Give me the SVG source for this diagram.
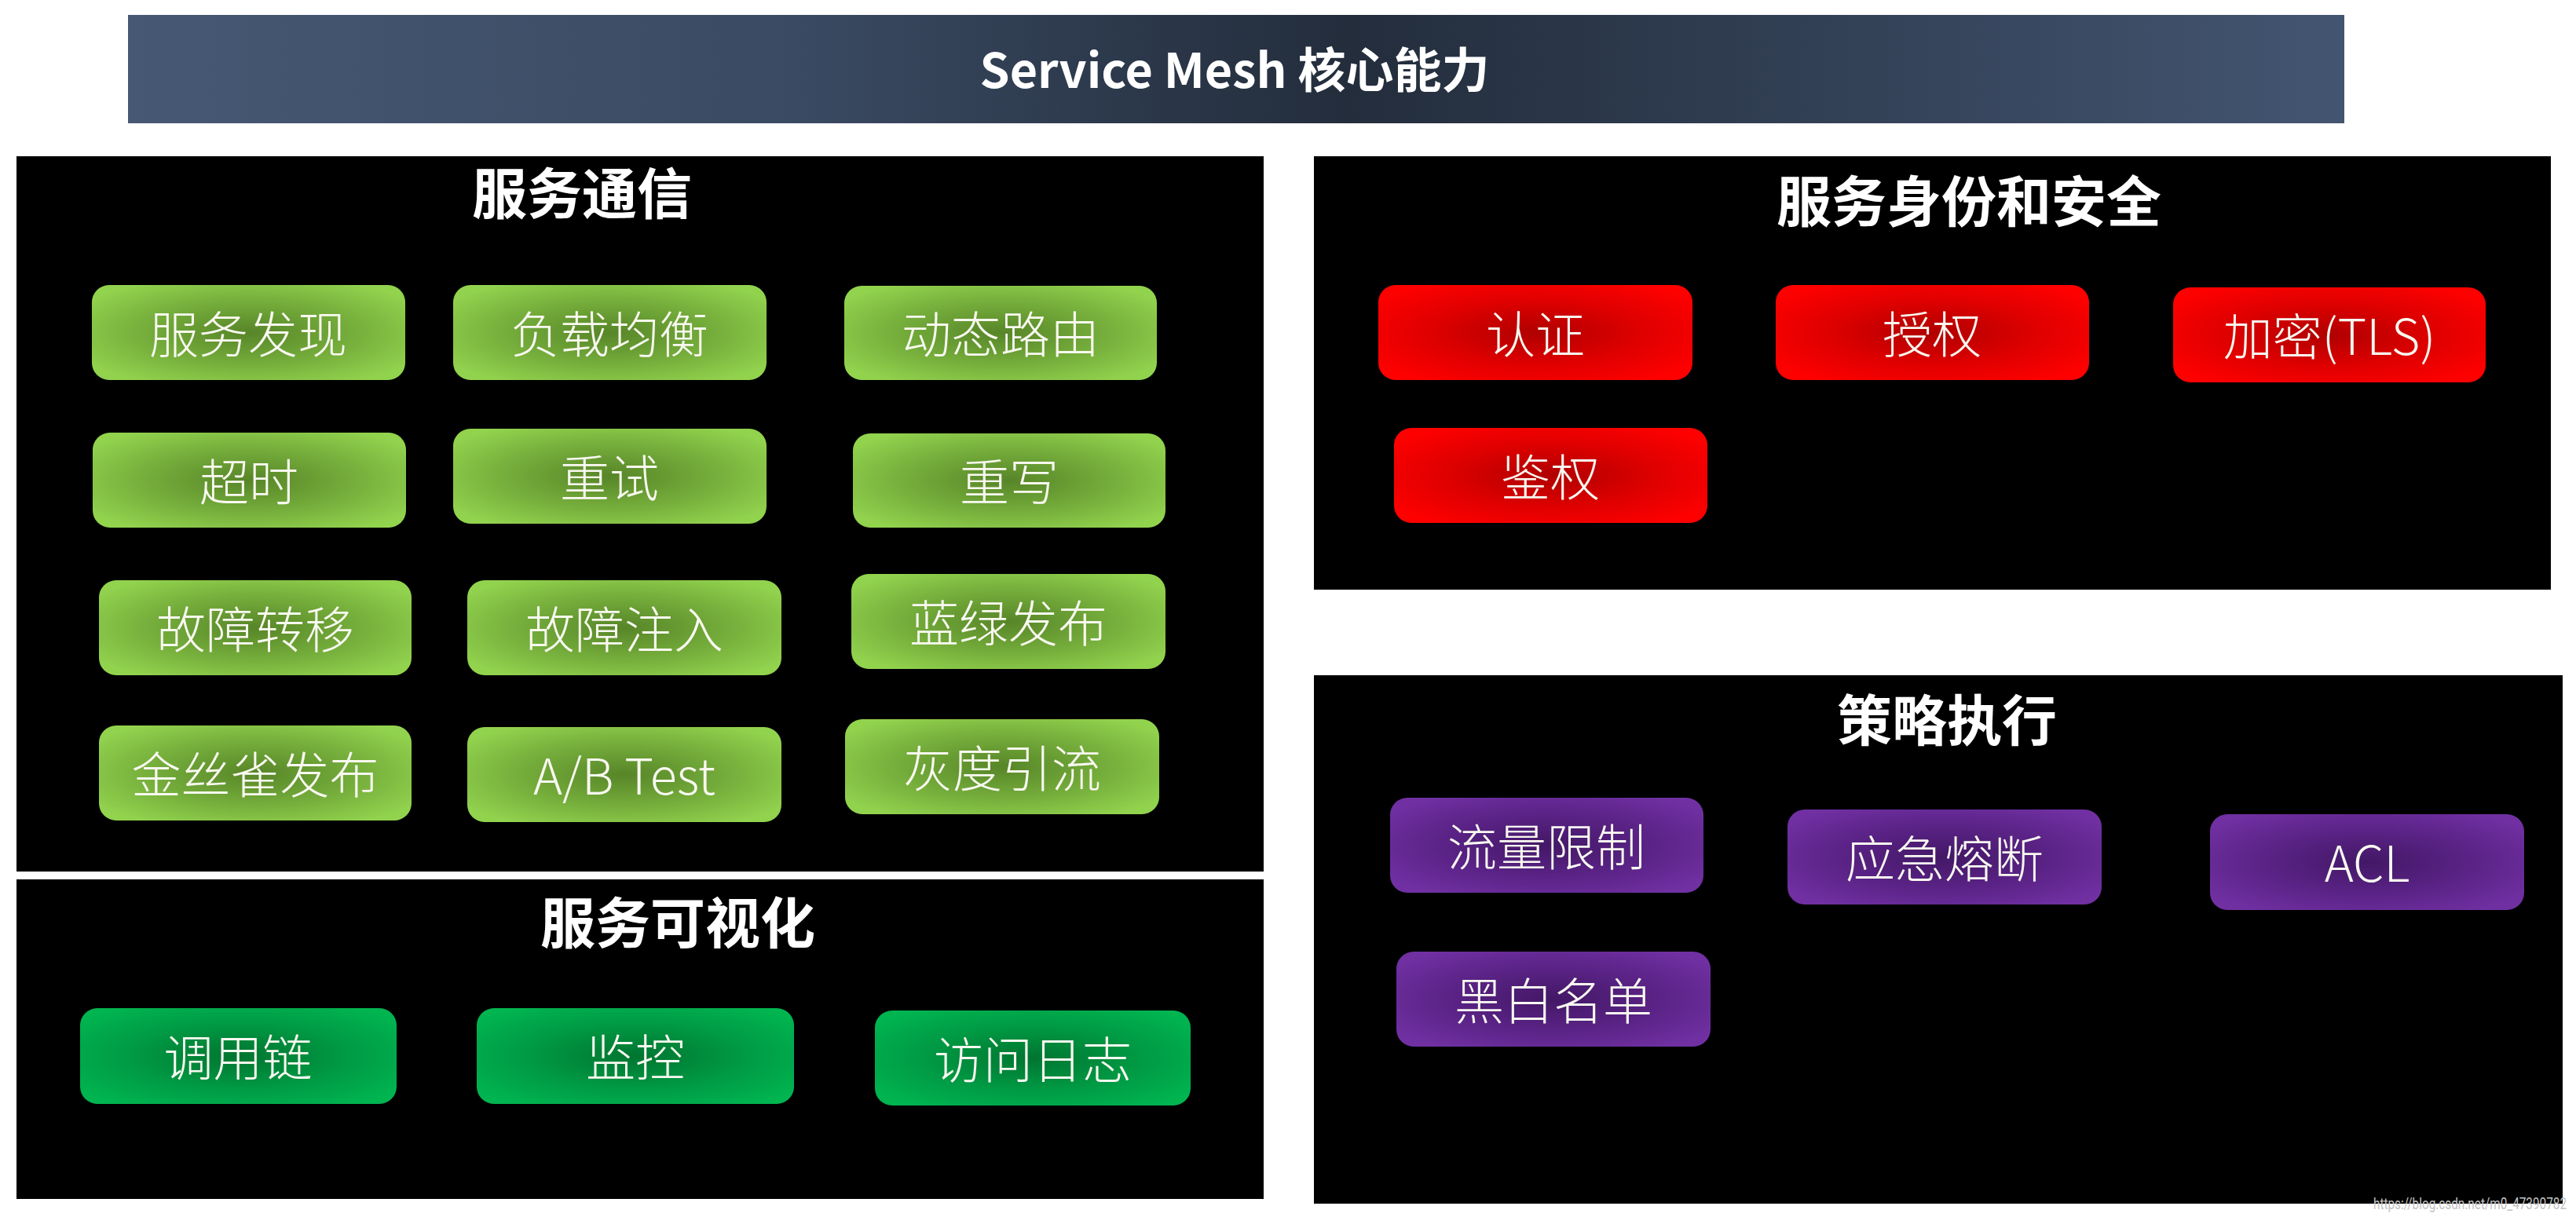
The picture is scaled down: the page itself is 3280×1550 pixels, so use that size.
<svg xmlns="http://www.w3.org/2000/svg" width="3280" height="1550" viewBox="0 0 3280 1550">
<defs>
<linearGradient id="gTitle" x1="0" y1="0" x2="1" y2="0">
<stop offset="0" stop-color="#465873"/>
<stop offset="0.3" stop-color="#3a4a62"/>
<stop offset="0.55" stop-color="#232d3c"/>
<stop offset="1" stop-color="#435571"/>
</linearGradient>
<radialGradient id="gLime" cx="0.5" cy="0.5" r="0.62">
<stop offset="0" stop-color="#578528"/>
<stop offset="0.55" stop-color="#76af3c"/>
<stop offset="1" stop-color="#92d34e"/>
</radialGradient>
<radialGradient id="gGreen" cx="0.5" cy="0.5" r="0.62">
<stop offset="0" stop-color="#007530"/>
<stop offset="0.55" stop-color="#009a44"/>
<stop offset="1" stop-color="#00b450"/>
</radialGradient>
<radialGradient id="gRed" cx="0.5" cy="0.5" r="0.62">
<stop offset="0" stop-color="#b00000"/>
<stop offset="0.55" stop-color="#e00000"/>
<stop offset="1" stop-color="#ff0000"/>
</radialGradient>
<radialGradient id="gPurple" cx="0.5" cy="0.5" r="0.62">
<stop offset="0" stop-color="#431866"/>
<stop offset="0.55" stop-color="#5b2387"/>
<stop offset="1" stop-color="#7030a2"/>
</radialGradient>
</defs>
<style>
.panel{fill:#000000}
.ptitle{font-family:"Noto Sans CJK SC","Noto Sans",sans-serif;font-weight:700;font-size:70px;fill:#ffffff;text-anchor:middle}
.nbox{stroke:none}
.lime{fill:url(#gLime)}
.green{fill:url(#gGreen)}
.red{fill:url(#gRed)}
.purple{fill:url(#gPurple)}
.ntext{font-family:"Noto Sans CJK SC","Noto Sans",sans-serif;font-weight:300;font-size:63px;fill:#f8f8f0;text-anchor:middle}
.title{font-family:"Noto Sans CJK SC","Noto Sans",sans-serif;font-weight:600;font-size:61px;fill:#ffffff;text-anchor:middle}
.wm{font-family:Roboto,"Liberation Sans",sans-serif;font-size:20px;fill:#c4c4c4}
</style>
<rect width="3280" height="1550" fill="#ffffff"/>

<g id="title-bar">
<rect x="163" y="19" width="2822" height="138" fill="url(#gTitle)"/>
<text class="title" x="1572" y="112">Service Mesh 核心能力</text>
</g>

<g id="panel-communication">
<rect class="panel" x="21" y="199" width="1588" height="911"/>
<text class="ptitle" x="741" y="273">服务通信</text>
</g>
<g id="panel-visibility">
<rect class="panel" x="21" y="1120" width="1588" height="407"/>
<text class="ptitle" x="863" y="1202">服务可视化</text>
</g>
<g id="panel-security">
<rect class="panel" x="1673" y="199" width="1575" height="552"/>
<text class="ptitle" x="2507" y="283">服务身份和安全</text>
</g>
<g id="panel-policy">
<rect class="panel" x="1673" y="860" width="1590" height="673"/>
<text class="ptitle" x="2479" y="944">策略执行</text>
</g>

<g id="node-service-discovery"><rect class="nbox lime" x="117" y="363" width="399" height="121" rx="22"/><text class="ntext" x="316" y="449">服务发现</text></g>
<g id="node-load-balancing"><rect class="nbox lime" x="577" y="363" width="399" height="121" rx="22"/><text class="ntext" x="776" y="449">负载均衡</text></g>
<g id="node-dynamic-routing"><rect class="nbox lime" x="1075" y="364" width="398" height="120" rx="22"/><text class="ntext" x="1274" y="449">动态路由</text></g>
<g id="node-timeout"><rect class="nbox lime" x="118" y="551" width="399" height="121" rx="22"/><text class="ntext" x="317" y="637">超时</text></g>
<g id="node-retry"><rect class="nbox lime" x="577" y="546" width="399" height="121" rx="22"/><text class="ntext" x="776" y="632">重试</text></g>
<g id="node-rewrite"><rect class="nbox lime" x="1086" y="552" width="398" height="120" rx="22"/><text class="ntext" x="1285" y="637">重写</text></g>
<g id="node-failover"><rect class="nbox lime" x="126" y="739" width="398" height="121" rx="22"/><text class="ntext" x="325" y="825">故障转移</text></g>
<g id="node-fault-injection"><rect class="nbox lime" x="595" y="739" width="400" height="121" rx="22"/><text class="ntext" x="795" y="825">故障注入</text></g>
<g id="node-blue-green"><rect class="nbox lime" x="1084" y="731" width="400" height="121" rx="22"/><text class="ntext" x="1284" y="817">蓝绿发布</text></g>
<g id="node-canary"><rect class="nbox lime" x="126" y="924" width="398" height="121" rx="22"/><text class="ntext" x="325" y="1010">金丝雀发布</text></g>
<g id="node-ab-test"><rect class="nbox lime" x="595" y="926" width="400" height="121" rx="22"/><text class="ntext" x="795" y="1012">A/B Test</text></g>
<g id="node-gray-traffic"><rect class="nbox lime" x="1076" y="916" width="400" height="121" rx="22"/><text class="ntext" x="1276" y="1002">灰度引流</text></g>

<g id="node-call-chain"><rect class="nbox green" x="102" y="1284" width="403" height="122" rx="22"/><text class="ntext" x="303" y="1370">调用链</text></g>
<g id="node-monitoring"><rect class="nbox green" x="607" y="1284" width="404" height="122" rx="22"/><text class="ntext" x="809" y="1370">监控</text></g>
<g id="node-access-log"><rect class="nbox green" x="1114" y="1287" width="402" height="121" rx="22"/><text class="ntext" x="1315" y="1373">访问日志</text></g>

<g id="node-authentication"><rect class="nbox red" x="1755" y="363" width="400" height="121" rx="22"/><text class="ntext" x="1955" y="449">认证</text></g>
<g id="node-authorization"><rect class="nbox red" x="2261" y="363" width="399" height="121" rx="22"/><text class="ntext" x="2460" y="449">授权</text></g>
<g id="node-encryption"><rect class="nbox red" x="2767" y="366" width="398" height="121" rx="22"/><text class="ntext" x="2966" y="452">加密(TLS)</text></g>
<g id="node-auth-check"><rect class="nbox red" x="1775" y="545" width="399" height="121" rx="22"/><text class="ntext" x="1974" y="631">鉴权</text></g>

<g id="node-rate-limit"><rect class="nbox purple" x="1770" y="1016" width="399" height="121" rx="22"/><text class="ntext" x="1969" y="1102">流量限制</text></g>
<g id="node-circuit-breaker"><rect class="nbox purple" x="2276" y="1031" width="400" height="121" rx="22"/><text class="ntext" x="2476" y="1117">应急熔断</text></g>
<g id="node-acl"><rect class="nbox purple" x="2814" y="1037" width="400" height="122" rx="22"/><text class="ntext" x="3014" y="1123">ACL</text></g>
<g id="node-black-white-list"><rect class="nbox purple" x="1778" y="1212" width="400" height="121" rx="22"/><text class="ntext" x="1978" y="1298">黑白名单</text></g>

<text class="wm" x="3022" y="1540" textLength="246" lengthAdjust="spacingAndGlyphs">https://blog.csdn.net/m0_47390782</text>
</svg>
